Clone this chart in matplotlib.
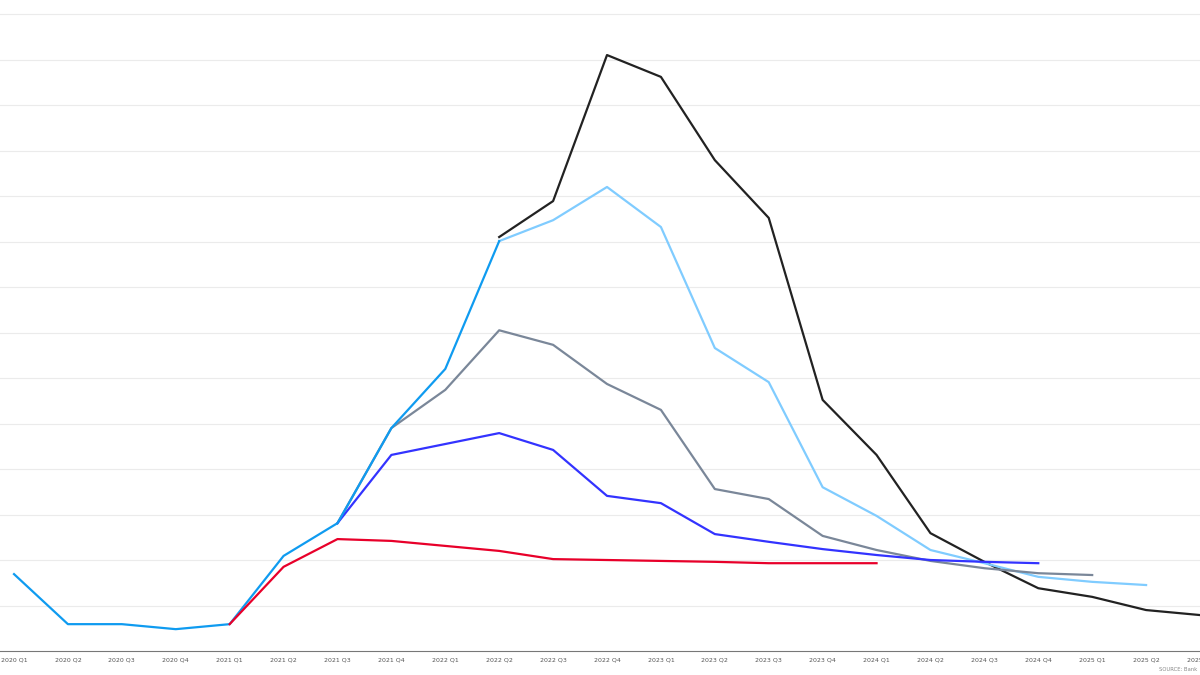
import matplotlib
matplotlib.use("Agg")
import matplotlib.pyplot as plt

quarters = [f"{y} Q{q}" for y in range(2020, 2026) for q in range(1, 5)][:23]

blue_x = list(range(0, 10))
blue = [1.69, 0.59, 0.59, 0.48, 0.59, 2.09, 2.81, 4.90, 6.20, 9.01]
red_x = list(range(4, 17))
red = [0.59, 1.85, 2.46, 2.42, 2.31, 2.20, 2.02, 2.00, 1.98, 1.96, 1.93, 1.93, 1.93]
darkblue_x = list(range(6, 20))
darkblue = [2.81, 4.31, 4.55, 4.79, 4.42, 3.41, 3.25, 2.57, 2.40, 2.24, 2.11, 2.00, 1.96, 1.93]
gray_x = list(range(6, 21))
gray = [2.81, 4.90, 5.74, 7.05, 6.73, 5.87, 5.30, 3.56, 3.34, 2.53, 2.22, 1.98, 1.82, 1.71, 1.67]
light_x = list(range(9, 22))
light = [9.01, 9.47, 10.20, 9.32, 6.66, 5.91, 3.60, 2.97, 2.22, 1.93, 1.63, 1.52, 1.45]
black_x = list(range(9, 23))
black = [9.10, 9.89, 13.10, 12.62, 10.79, 9.52, 5.52, 4.31, 2.59, 1.96, 1.38, 1.19, 0.90, 0.79]

fig = plt.figure(figsize=(12, 6.75), dpi=100)
ax = fig.add_axes([0, 1 - 651/675, 1, 651/675])
for v in range(1, 15):
    ax.axhline(v, color="#ebebeb", lw=0.8, zorder=0)
ax.plot(black_x, black, color="#222222", lw=1.6)
ax.plot(light_x, light, color="#80ccff", lw=1.6)
ax.plot(gray_x, gray, color="#7a8799", lw=1.6)
ax.plot(darkblue_x, darkblue, color="#3333ff", lw=1.6)
ax.plot(blue_x, blue, color="#0f9bf0", lw=1.6)
ax.plot(red_x, red, color="#e8002a", lw=1.6)
ax.set_xlim(-0.26, 21.59)
ax.set_ylim(0, 14.31)
ax.set_xticks(range(len(quarters)))
ax.set_xticklabels(quarters, fontsize=4.5, color="#555555")
ax.tick_params(axis="x", length=0, pad=5)
ax.set_yticks([])
for s in ["top", "right", "left"]:
    ax.spines[s].set_visible(False)
ax.spines["bottom"].set_color("#777777")
fig.text(0.998, 0.0045, "SOURCE: Bank", fontsize=3.8, color="#888888", ha="right", va="bottom")
fig.savefig("out.png", dpi=100)
